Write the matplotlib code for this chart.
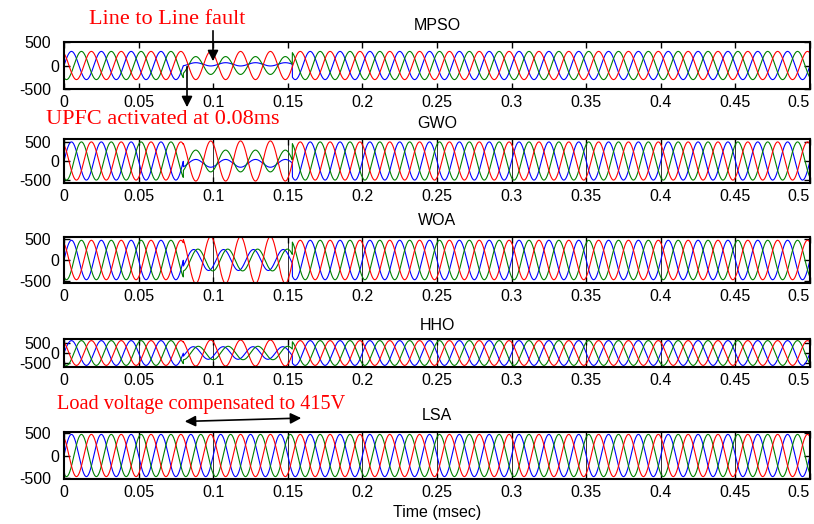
import numpy as np
import matplotlib
matplotlib.use("Agg")
import matplotlib.pyplot as plt
from matplotlib.patches import FancyArrowPatch

# ---------------- data ----------------
methods = ["MPSO", "GWO", "WOA", "HHO", "LSA"]
freq_hz = 50.0
t_end = 0.5
fault_start = 0.08
fault_end = 0.153
normal_amp = [300, 490, 470, 590, 467]
fault_amp_red = [300, 515, 560, 620, 467]
fault_amp_green = [190, 280, 260, 320, 467]
fault_amp_blue = [35, 100, 250, 300, 467]
fault_off_blue = [25, -60, 0, 0, 0]
fault_shift_green = [0, 0, -25, -30, 0]   # degrees
fault_shift_blue = [0, 0, 25, 30, 0]      # degrees
has_fault = [True, True, True, True, False]
y_limits = [500, 565, 548, 667, 520]
y_ticks = [-500, 0, 500]
y_ticklabels = ["-500", "0", "500"]
x_ticks = [0, 0.05, 0.1, 0.15, 0.2, 0.25, 0.3, 0.35, 0.4, 0.45, 0.5]
x_ticklabels = ["0", "0.05", "0.1", "0.15", "0.2", "0.25", "0.3", "0.35", "0.4", "0.45", "0.5"]
x_label = "Time (msec)"
note_fault = "Line to Line fault"
note_upfc = "UPFC activated at 0.08ms"
note_load = "Load voltage compensated to 415V"

# ---------------- layout ----------------
W, H = 814, 524
fig = plt.figure(figsize=(W / 100, H / 100), dpi=100)
plt.rcParams['font.family'] = ['Liberation Sans', 'DejaVu Sans']

left_px, right_px = 64, 810
rows_px = [(42, 89), (139, 183), (237, 283), (339, 367), (432, 479)]
title_pads = [8.6, 8.0, 8.6, 6.5, 8.6]
grid_on = [False, True, True, True, True]

col_blue = (0, 0, 1)
col_green = (0, 0.5, 0)
col_red = (1, 0, 0)

t = np.linspace(0, t_end, 10001)
w = 2 * np.pi * freq_hz
deg = np.pi / 180

axes = []
for i, name in enumerate(methods):
    top, bot = rows_px[i]
    ax = fig.add_axes([left_px / W, 1 - bot / H, (right_px - left_px) / W, (bot - top) / H])
    axes.append(ax)
    A = normal_amp[i]
    red = A * np.sin(w * t + 120 * deg)
    green = A * np.sin(w * t - 120 * deg)
    blue = A * np.sin(w * t)
    if has_fault[i]:
        m = (t >= fault_start) & (t <= fault_end)
        ph = w * t[m] + 120 * deg
        red[m] = fault_amp_red[i] * np.sin(ph)
        green[m] = -fault_amp_green[i] * np.sin(ph + fault_shift_green[i] * deg)
        blue[m] = -fault_amp_blue[i] * np.sin(ph + fault_shift_blue[i] * deg) + fault_off_blue[i]
    ax.plot(t, blue, color=col_blue, lw=0.8)
    ax.plot(t, green, color=col_green, lw=0.8)
    ax.plot(t, red, color=col_red, lw=0.8)
    ax.set_xlim(0, t_end)
    ax.set_ylim(-y_limits[i], y_limits[i])
    ax.set_xticks(x_ticks)
    ax.set_xticklabels(x_ticklabels)
    ax.set_yticks(y_ticks)
    ax.set_yticklabels(y_ticklabels)
    ax.tick_params(direction='in', length=4, width=1, labelsize=11.5,
                   top=True, right=True, pad=4)
    lbls = ax.get_xticklabels()
    lbls[-1].set_horizontalalignment('right')
    yt = ax.yaxis.get_major_ticks()
    for k, tk in enumerate(yt):
        tk.set_pad(3.6 if y_ticks[k] == 0 else 9.4)
    for s in ax.spines.values():
        s.set_linewidth(1.5)
    if grid_on[i]:
        ax.grid(axis='x', color='black', lw=0.7, alpha=0.8)
    ax.set_title(name, fontsize=11.5, pad=title_pads[i])

axes[-1].set_xlabel(x_label, fontsize=11.5, labelpad=4)


def fp(x, y):
    return (x / W, 1 - y / H)


serif = ['Liberation Serif', 'DejaVu Serif']
fig.text(*fp(167, 20), note_fault, color='red', fontsize=16, family=serif,
         ha='center', va='center')
fig.text(*fp(163, 120), note_upfc, color='red', fontsize=16, family=serif,
         ha='center', va='center')
fig.text(*fp(201, 405), note_load, color='red', fontsize=14.6, family=serif,
         ha='center', va='center')

a1 = FancyArrowPatch(fp(213, 28), fp(213, 64), transform=fig.transFigure,
                     arrowstyle='-|>', mutation_scale=16, color='black', lw=1.2)
a2 = FancyArrowPatch(fp(187, 64), fp(187, 110), transform=fig.transFigure,
                     arrowstyle='-|>', mutation_scale=16, color='black', lw=1.2)
a3 = FancyArrowPatch(fp(182, 421.5), fp(304, 418), transform=fig.transFigure,
                     arrowstyle='<|-|>', mutation_scale=16, color='black', lw=1.2)
for a in (a1, a2, a3):
    fig.add_artist(a)

fig.savefig("out.png", dpi=100, facecolor='white')
